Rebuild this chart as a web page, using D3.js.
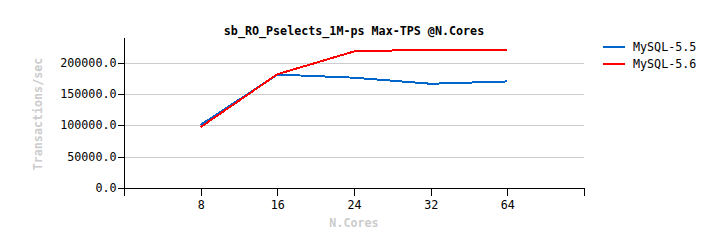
<!DOCTYPE html>
<html>
<head>
<meta charset="utf-8">
<script src="https://cdn.jsdelivr.net/npm/d3@7"></script>
<style>
    body { margin: 0; background: #fff; }
    svg text { font-family: "DejaVu Sans Mono", "Liberation Mono", monospace; }
</style>
</head>
<body>
<div id="chart"></div>
<script>
// values
let cores = ["8", "16", "24", "32", "64"];
let mysql55 = [101000, 181500, 176500, 166800, 170500];
let mysql56 = [97500, 182000, 218500, 221500, 221500];
let seriesNames = ["MySQL-5.5", "MySQL-5.6"];
let seriesColors = ["#0066cc", "#ff0000"];
let yTicks = [0, 50000, 100000, 150000, 200000];

let width = 709,
    height = 248,
    plotLeft = 124,
    plotRight = 584,
    plotTop = 38,
    plotBottom = 188;

let svg = d3.select("#chart").append("svg")
    .attr("width", width)
    .attr("height", height);

let x = d3.scalePoint()
    .domain(cores)
    .range([plotLeft, plotRight])
    .padding(1);

let y = d3.scaleLinear()
    .domain([0, 240000])
    .range([plotBottom, plotTop]);

// grid
svg.append("g")
    .selectAll("line")
    .data(yTicks.filter(function (d) { return d > 0; }))
    .enter()
    .append("line")
    .attr("x1", plotLeft)
    .attr("x2", plotRight)
    .attr("y1", function (d) { return Math.round(y(d)) + 0.5; })
    .attr("y2", function (d) { return Math.round(y(d)) + 0.5; })
    .attr("stroke", "#cccccc")
    .attr("stroke-width", 1)
    .attr("shape-rendering", "crispEdges");

// y axis
let yAxis = svg.append("g")
    .attr("transform", "translate(" + (plotLeft + 0.5) + ",0)")
    .call(d3.axisLeft(y)
        .tickValues(yTicks)
        .tickSize(7)
        .tickPadding(1)
        .tickFormat(function (d) { return d.toFixed(1); }));
yAxis.select(".domain").attr("d", "M0," + plotTop + "V" + (plotBottom + 0.5));
yAxis.selectAll("line").attr("stroke", "#000").attr("shape-rendering", "crispEdges");
yAxis.selectAll("text").attr("font-size", "11.7px").attr("fill", "#000")
    .attr("font-family", "DejaVu Sans Mono");
yAxis.selectAll(".tick").attr("transform", function (d) {
    return "translate(0," + (Math.round(y(d)) + 0.5) + ")";
});

// x axis
let xAxis = svg.append("g")
    .attr("transform", "translate(0," + (plotBottom + 0.5) + ")")
    .call(d3.axisBottom(x).tickSize(7).tickPadding(5).tickSizeOuter(7));
xAxis.select(".domain").attr("d", "M" + (plotLeft + 0.5) + ",7V0H" + (plotRight + 0.5) + "V7");
xAxis.selectAll("line").attr("stroke", "#000").attr("shape-rendering", "crispEdges");
xAxis.selectAll("text").attr("font-size", "11.7px").attr("fill", "#000")
    .attr("font-family", "DejaVu Sans Mono");
svg.selectAll(".domain").attr("stroke", "#000").attr("shape-rendering", "crispEdges");

// lines
let line = d3.line()
    .x(function (d, i) { return x(cores[i]); })
    .y(function (d) { return y(d); });

[mysql55, mysql56].forEach(function (s, i) {
    svg.append("path")
        .datum(s)
        .attr("fill", "none")
        .attr("stroke", seriesColors[i])
        .attr("stroke-width", 2)
        .attr("shape-rendering", "crispEdges")
        .attr("d", line);
});

// title and axis labels
svg.append("text")
    .attr("x", 354)
    .attr("y", 35)
    .attr("text-anchor", "middle")
    .attr("font-size", "11.7px")
    .attr("font-weight", "bold")
    .text("sb_RO_Pselects_1M-ps Max-TPS @N.Cores");

svg.append("text")
    .attr("x", 354)
    .attr("y", 227)
    .attr("text-anchor", "middle")
    .attr("font-size", "11.7px")
    .attr("font-weight", "bold")
    .attr("fill", "#cccccc")
    .text("N.Cores");

svg.append("text")
    .attr("transform", "translate(42,114) rotate(-90)")
    .attr("text-anchor", "middle")
    .attr("font-size", "11.7px")
    .attr("font-weight", "bold")
    .attr("fill", "#cccccc")
    .text("Transactions/sec");

// legend
let legend = svg.append("g")
    .selectAll("g")
    .data(seriesNames)
    .enter()
    .append("g")
    .attr("transform", function (d, i) { return "translate(603," + (47 + i * 16.5) + ")"; });

legend.append("line")
    .attr("x1", 0)
    .attr("x2", 22)
    .attr("stroke", function (d, i) { return seriesColors[i]; })
    .attr("stroke-width", 2)
    .attr("shape-rendering", "crispEdges");

legend.append("text")
    .attr("x", 30)
    .attr("dy", "0.35em")
    .attr("font-size", "11.7px")
    .text(function (d) { return d; });
</script>
</body>
</html>
